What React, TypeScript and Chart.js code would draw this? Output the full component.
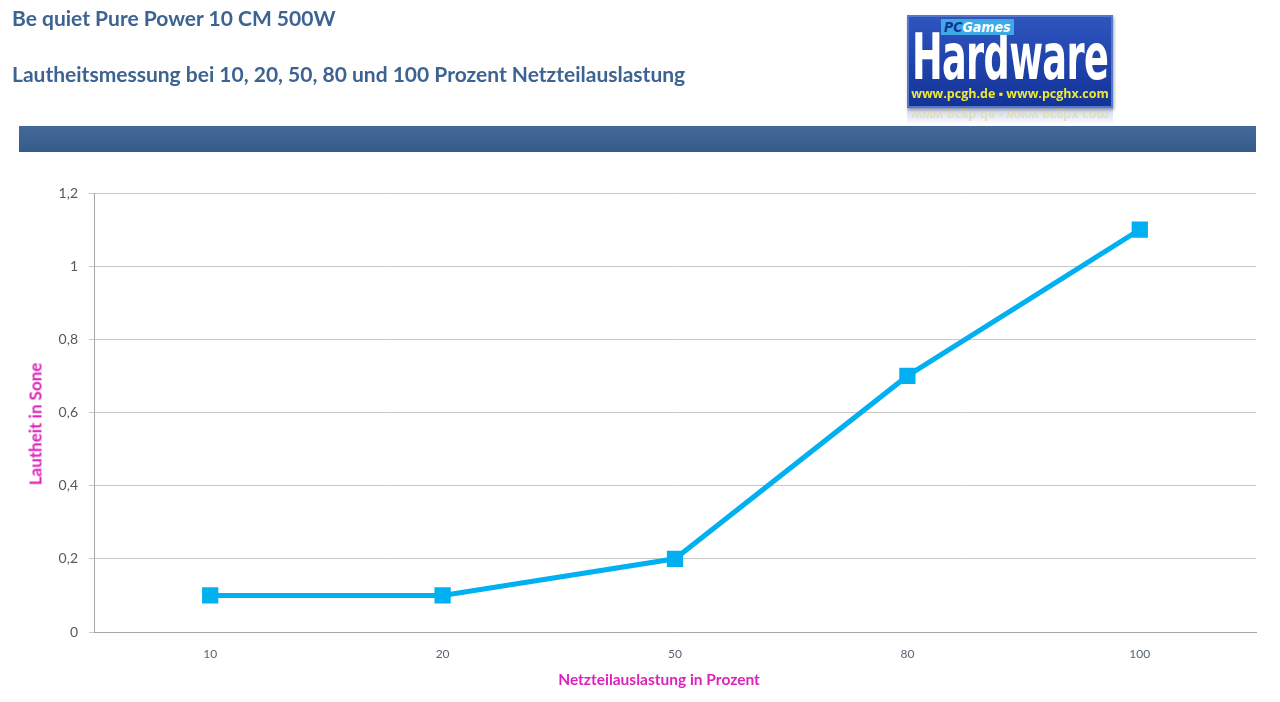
import React, { useEffect, useLayoutEffect, useRef } from "react";
import { Chart, registerables } from "chart.js";

Chart.register(...registerables);

const categories: string[] = ["10", "20", "50", "80", "100"];
const loudness: number[] = [0.1, 0.1, 0.2, 0.7, 1.1];
const yTickLabels: string[] = ["0", "0,2", "0,4", "0,6", "0,8", "1", "1,2"];

const titleLine1 = "Be quiet Pure Power 10 CM 500W";
const titleLine2 = "Lautheitsmessung bei 10, 20, 50, 80 und 100 Prozent Netzteilauslastung";
const yAxisTitle = "Lautheit in Sone";
const xAxisTitle = "Netzteilauslastung in Prozent";

const LINE_COLOR = "#00b0f0";
const TITLE_COLOR = "#3c6392";
const AXIS_TITLE_COLOR = "#dd22bb";

export default function App() {
  const canvasRef = useRef<HTMLCanvasElement | null>(null);
  const logoTextRef = useRef<HTMLSpanElement | null>(null);

  useLayoutEffect(() => {
    const el = logoTextRef.current;
    if (!el) return;
    const w = el.offsetWidth;
    if (w > 0) el.style.transform = `scaleX(${196 / w})`;
  }, []);

  useEffect(() => {
    if (!canvasRef.current) return;
    const chart = new Chart(canvasRef.current, {
      type: "line",
      data: {
        labels: categories,
        datasets: [
          {
            label: "Lautheit",
            data: loudness,
            borderColor: LINE_COLOR,
            backgroundColor: LINE_COLOR,
            borderWidth: 5,
            pointStyle: "rect",
            pointRadius: 11.5,
            pointBorderWidth: 0,
            pointBackgroundColor: LINE_COLOR,
            tension: 0,
          },
        ],
      },
      options: {
        responsive: false,
        animation: false,
        layout: { padding: { top: 193, right: 24, bottom: 0, left: 0 } },
        plugins: {
          legend: { display: false },
          tooltip: { enabled: false },
        },
        scales: {
          x: {
            type: "category",
            offset: true,
            grid: { display: false },
            border: { display: true, color: "#a6a6a6", width: 1 },
            ticks: {
              color: "#5a6478",
              font: { family: "Lato", size: 12 },
              padding: 7,
              maxRotation: 0,
            },
            afterFit: (scale: any) => {
              scale.height = 70;
            },
          },
          y: {
            min: 0,
            max: 1.2,
            ticks: {
              stepSize: 0.2,
              color: "#595959",
              font: { family: "Lato", size: 14 },
              padding: 11,
              callback: (_v: any, i: number) => yTickLabels[i],
            },
            grid: {
              color: "#c8c8c8",
              lineWidth: 1,
              tickLength: 5,
              drawTicks: true,
            },
            border: { display: true, color: "#a6a6a6", width: 1 },
            afterFit: (scale: any) => {
              scale.width = 94;
            },
          },
        },
      },
    });
    return () => chart.destroy();
  }, []);

  return (
    <div
      style={{
        position: "fixed",
        left: 0,
        top: 0,
        width: 1280,
        height: 702,
        background: "#ffffff",
        overflow: "hidden",
        fontFamily: "Lato, 'Open Sans', sans-serif",
      }}
    >
      <canvas
        ref={canvasRef}
        width={1280}
        height={702}
        style={{ position: "absolute", left: 0, top: 0, width: 1280, height: 702 }}
      />
      <div
        style={{
          position: "absolute",
          left: 12,
          top: 5,
          fontSize: 21,
          fontWeight: 700,
          color: TITLE_COLOR,
          whiteSpace: "nowrap",
        }}
      >
        {titleLine1}
      </div>
      <div
        style={{
          position: "absolute",
          left: 12,
          top: 61,
          fontSize: 21,
          fontWeight: 700,
          color: TITLE_COLOR,
          whiteSpace: "nowrap",
        }}
      >
        {titleLine2}
      </div>
      {/* band */}
      <div
        style={{
          position: "absolute",
          left: 19,
          top: 126,
          width: 1237,
          height: 26,
          background: "linear-gradient(#43699a, #345b8a)",
        }}
      />
      {/* logo */}
      <div
        style={{
          position: "absolute",
          left: 907,
          top: 15,
          width: 206,
          height: 93,
          background: "linear-gradient(#2f56c0, #123296)",
          boxShadow: "inset 0 0 0 2px #5577cc, 1px 2px 3px rgba(0,0,0,0.35)",
          overflow: "hidden",
        }}
      >
        <div
          style={{
            position: "absolute",
            left: 5,
            top: 9,
            width: 200,
            whiteSpace: "nowrap",
          }}
        >
          <span
            ref={logoTextRef}
            style={{
              display: "inline-block",
              transformOrigin: "left top",
              color: "#ffffff",
              fontWeight: 700,
              fontSize: 64,
              lineHeight: "66px",
              letterSpacing: -1,
              fontFamily: "'DejaVu Sans Condensed', 'DejaVu Sans', sans-serif",
            }}
          >
            Hardware
          </span>
        </div>
        <div
          style={{
            position: "absolute",
            left: 34,
            top: 4,
            padding: "0 3px",
            background: "#3fa9e6",
            color: "#123296",
            fontStyle: "italic",
            fontWeight: 700,
            fontSize: 14,
            lineHeight: "16px",
            fontFamily: "'DejaVu Sans Condensed', 'DejaVu Sans', sans-serif",
          }}
        >
          PC<span style={{ color: "#ffffff" }}>Games</span>
        </div>
        <div
          style={{
            position: "absolute",
            left: 0,
            top: 72,
            width: 206,
            textAlign: "center",
            color: "#f0e832",
            fontWeight: 700,
            fontSize: 12.5,
            lineHeight: "14px",
            whiteSpace: "nowrap",
            fontFamily: "'Open Sans', sans-serif",
          }}
        >
          www.pcgh.de ▪ www.pcghx.com
        </div>
      </div>
      {/* logo reflection */}
      <div
        style={{
          position: "absolute",
          left: 907,
          top: 108,
          width: 206,
          height: 17,
          overflow: "hidden",
          opacity: 0.25,
          background: "linear-gradient(#3a5cc0, rgba(255,255,255,0))",
        }}
      >
        <div
          style={{
            position: "absolute",
            left: 0,
            top: 0,
            width: 206,
            textAlign: "center",
            color: "#808000",
            fontWeight: 700,
            fontSize: 12.5,
            lineHeight: "14px",
            whiteSpace: "nowrap",
            transform: "scaleY(-1)",
            fontFamily: "'Open Sans', sans-serif",
          }}
        >
          www.pcgh.de ▪ www.pcghx.com
        </div>
      </div>
      {/* axis titles */}
      <div
        style={{
          position: "absolute",
          left: 35,
          top: 424,
          transform: "translate(-50%, -50%) rotate(-90deg)",
          color: AXIS_TITLE_COLOR,
          fontWeight: 700,
          fontSize: 17,
          whiteSpace: "nowrap",
        }}
      >
        {yAxisTitle}
      </div>
      <div
        style={{
          position: "absolute",
          left: 659,
          top: 679,
          transform: "translate(-50%, -50%)",
          color: AXIS_TITLE_COLOR,
          fontWeight: 700,
          fontSize: 15.5,
          whiteSpace: "nowrap",
        }}
      >
        {xAxisTitle}
      </div>
    </div>
  );
}
